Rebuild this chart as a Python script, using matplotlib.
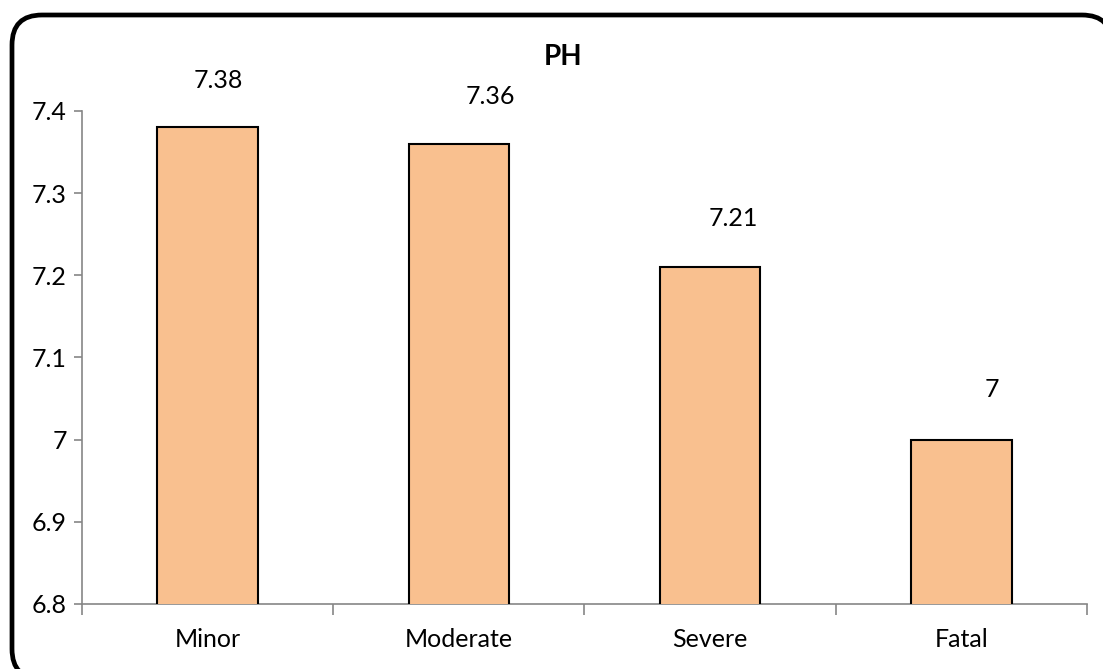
import matplotlib.pyplot as plt
from matplotlib.patches import FancyBboxPatch

plt.rcParams['font.family'] = ['Lato', 'DejaVu Sans']

categories = ['Minor', 'Moderate', 'Severe', 'Fatal']
ph_values = [7.38, 7.36, 7.21, 7.0]
value_labels = ['7.38', '7.36', '7.21', '7']
# manual nudges for the value labels, in pixels (x, y)
label_offsets = [(11, 47), (32, 47), (23, 49), (31, 50)]

fig = plt.figure(figsize=(11.03, 6.69), dpi=100)

# rounded chart border, drawn on a full-figure pixel canvas
bg = fig.add_axes([0, 0, 1, 1], zorder=-1)
bg.set_xlim(0, 1103)
bg.set_ylim(669, 0)
bg.axis('off')
bg.add_patch(FancyBboxPatch((12, 15), 1100, 664,
                            boxstyle='round,pad=0,rounding_size=30',
                            fc='white', ec='black', lw=3.4, clip_on=False))

ax = fig.add_axes([0.0743, 0.0972, 0.9112, 0.7369])
ax.patch.set_alpha(0)
x = range(len(categories))
bars = ax.bar(x, ph_values, width=0.4, color='#F9C08F', edgecolor='black',
              linewidth=1.5, zorder=3)

for b, lab, (dx, dy) in zip(bars, value_labels, label_offsets):
    ax.annotate(lab, (b.get_x() + b.get_width() / 2, b.get_height()),
                xytext=(dx, dy), textcoords='offset pixels',
                ha='center', va='center', fontsize=18)

ax.set_ylim(6.8, 7.4)
ax.set_yticks([6.8, 6.9, 7.0, 7.1, 7.2, 7.3, 7.4])
ax.set_yticklabels(['6.8', '6.9', '7', '7.1', '7.2', '7.3', '7.4'])
ax.set_xlim(-0.5, 3.5)
ax.set_xticks([-0.5, 0.5, 1.5, 2.5, 3.5])
ax.set_xticklabels([])
ax.set_xticks(list(x), minor=True)
ax.set_xticklabels(categories, minor=True)

for s in ['top', 'right']:
    ax.spines[s].set_visible(False)
for s in ['left', 'bottom']:
    ax.spines[s].set_color('#868686')
    ax.spines[s].set_linewidth(1.2)

ax.tick_params(axis='y', direction='out', length=6, width=1.2, color='#868686',
               labelsize=18, pad=5)
ax.tick_params(axis='x', which='major', direction='out', length=8, width=1.2,
               color='#868686')
ax.tick_params(axis='x', which='minor', length=0, labelsize=18, pad=17)

fig.text(563 / 1103, 1 - 57 / 669, 'PH', ha='center', va='center',
         fontsize=20, fontweight='bold')

fig.savefig('out.png', dpi=100)
